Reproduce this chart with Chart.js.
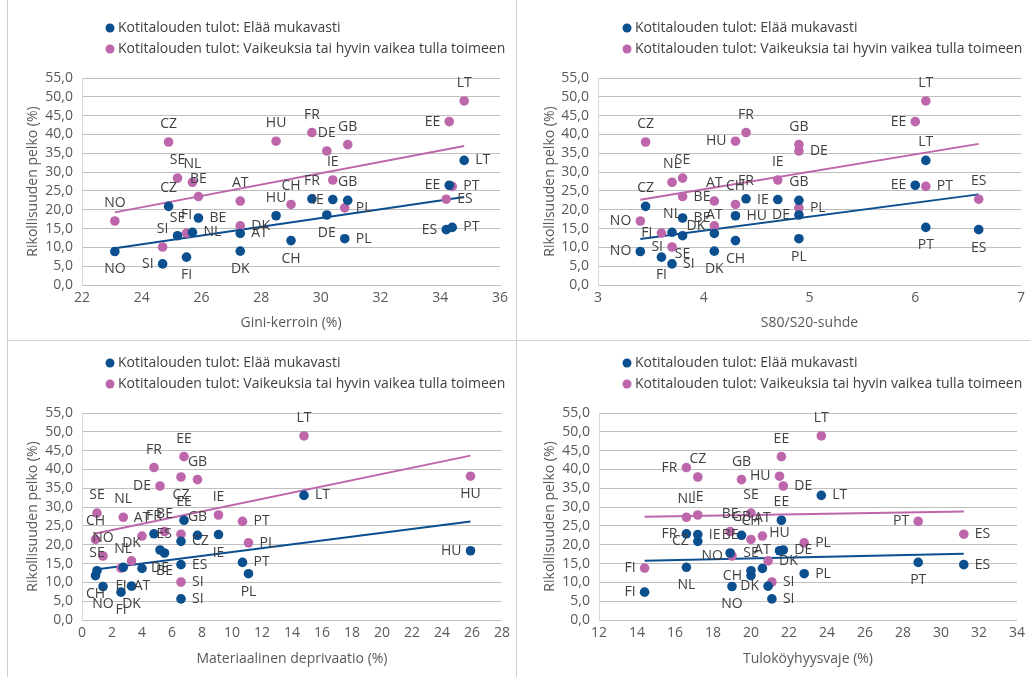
<!DOCTYPE html>
<html>
<head>
<meta charset="utf-8">
<script src="https://cdn.jsdelivr.net/npm/chart.js@4.4.1/dist/chart.umd.min.js"></script>
<style>
  body { margin:0; background:#fff; width:1030px; height:677px; overflow:hidden; position:relative; }
  .panel { position:absolute; }
  .rule { position:absolute; background:#cfcfcf; z-index:2; }
</style>
</head>
<body>
<div class="panel" style="left:0;top:0;width:515px;height:335px"><canvas id="c1"></canvas></div>
<div class="panel" style="left:517px;top:0;width:513px;height:335px"><canvas id="c2"></canvas></div>
<div class="panel" style="left:0;top:335px;width:515px;height:342px"><canvas id="c3"></canvas></div>
<div class="panel" style="left:517px;top:335px;width:513px;height:342px"><canvas id="c4"></canvas></div>
<div class="rule" style="left:7px;top:0;width:1px;height:677px"></div>
<div class="rule" style="left:516px;top:0;width:1px;height:677px"></div>
<div class="rule" style="left:7px;top:340px;width:1023px;height:1px"></div>
<script>
const countries   = ["AT","BE","CH","CZ","DE","DK","EE","ES","FI","FR","GB","HU","IE","LT","NL","NO","PL","PT","SE","SI"];
const comfortable = [13.7,17.8,11.8,20.9,18.6,9.0,26.5,14.7,7.4,22.9,22.5,18.4,22.7,33.1,14.0,8.9,12.3,15.3,13.1,5.6];
const difficult   = [22.3,23.5,21.4,38.0,35.6,15.7,43.4,22.8,13.8,40.5,37.3,38.2,27.9,48.9,27.3,17.0,20.5,26.2,28.4,10.1];
const gini        = [27.3,25.9,29.0,24.9,30.2,27.3,34.3,34.2,25.5,29.7,30.9,28.5,30.4,34.8,25.7,23.1,30.8,34.4,25.2,24.7];
const s80s20      = [4.1,3.8,4.3,3.45,4.9,4.1,6.0,6.6,3.6,4.4,4.9,4.3,4.7,6.1,3.7,3.4,4.9,6.1,3.8,3.7];
const deprivation = [4.0,5.5,0.9,6.6,5.2,3.3,6.8,6.6,2.6,4.8,7.7,25.9,9.1,14.8,2.75,1.4,11.1,10.7,1.0,6.6];
const povertyGap  = [20.6,18.9,20.0,17.2,21.7,20.9,21.6,31.2,14.4,16.6,19.5,21.5,17.2,23.7,16.6,19.0,22.8,28.8,20.0,21.1];

const seriesNames = ["Kotitalouden tulot: Elää mukavasti", "Kotitalouden tulot: Vaikeuksia tai hyvin vaikea tulla toimeen"];
const yTitle = "Rikollisuuden pelko (%)";
const colors = ["#0b4f8e", "#bd66ac"];
const textColor = "#404040";
const FONT = "'Open Sans', sans-serif";

// label side per country (t/b/l/r), same order as countries
const labelPos = {
  c1: ["r r b t b b l l b t t t l r r b r r t l", "t t t t t r l r t t t t t t t t r r t t"],
  c2: ["t r b t l b l b b t t r l t t l b b b r", "t r t t r l l t l t t l t t t l r r t l"],
  c3: ["b b b r b b t r b t t l b r t b b r t r", "t t t b l t t l b t t b t t t t r r t r"],
  c4: ["t t l l r l t r l l t t r r b b r b t r", "t t t t r r t r l l t l t t t l r l t r"],
};

const panels = [
  { id:"c1", xs:gini,        title:"Gini-kerroin (%)",              min:22, max:36, step:2, yw:82, pr:15, xh:50, tb:4 },
  { id:"c2", xs:s80s20,      title:"S80/S20-suhde",                 min:3,  max:7,  step:1, yw:81, pr:9,  xh:50, tb:4 },
  { id:"c3", xs:deprivation, title:"Materiaalinen deprivaatio (%)", min:0,  max:28, step:2, yw:82, pr:13, xh:57, tb:10 },
  { id:"c4", xs:povertyGap,  title:"Tuloköyhyysvaje (%)",           min:12, max:34, step:2, yw:82, pr:11, xh:57, tb:10 },
];

function trend(xs, ys){
  const n = xs.length;
  const mx = xs.reduce((a,b)=>a+b,0)/n, my = ys.reduce((a,b)=>a+b,0)/n;
  let sxy = 0, sxx = 0;
  for (let i=0;i<n;i++){ sxy += (xs[i]-mx)*(ys[i]-my); sxx += (xs[i]-mx)**2; }
  const b = sxy/sxx, a = my - b*mx;
  const lo = Math.min(...xs), hi = Math.max(...xs);
  return [{x:lo, y:a+b*lo}, {x:hi, y:a+b*hi}];
}

const pointLabels = {
  id: "pointLabels",
  afterDatasetsDraw(chart, args, opts){
    const ctx = chart.ctx;
    ctx.save();
    ctx.font = "14px " + FONT;
    ctx.fillStyle = textColor;
    [0,1].forEach(di => {
      const pos = opts.pos[di].split(" ");
      chart.getDatasetMeta(di).data.forEach((pt, i) => {
        let x = pt.x, y = pt.y;
        ctx.textBaseline = "middle";
        if (pos[i] === "t"){ ctx.textAlign = "center"; y -= 18; }
        else if (pos[i] === "b"){ ctx.textAlign = "center"; y += 18; }
        else if (pos[i] === "l"){ ctx.textAlign = "right"; x -= 9; }
        else { ctx.textAlign = "left"; x += 11; }
        ctx.fillText(countries[i], x, y);
      });
    });
    ctx.restore();
  }
};

const topLegend = {
  id: "topLegend",
  afterDraw(chart){
    const ctx = chart.ctx;
    ctx.save();
    ctx.font = "14px " + FONT;
    ctx.textBaseline = "middle";
    ctx.textAlign = "left";
    seriesNames.forEach((name, i) => {
      const y = 28 + i*21;
      ctx.fillStyle = colors[i];
      ctx.beginPath(); ctx.arc(110, y, 4.5, 0, Math.PI*2); ctx.fill();
      ctx.fillStyle = textColor;
      ctx.fillText(name, 118, y);
    });
    ctx.restore();
  }
};

panels.forEach(p => {
  const ptsA = p.xs.map((x,i)=>({x, y:comfortable[i]}));
  const ptsB = p.xs.map((x,i)=>({x, y:difficult[i]}));
  new Chart(document.getElementById(p.id), {
    type: "scatter",
    data: { datasets: [
      { label: seriesNames[0], data: ptsA, backgroundColor: colors[0], borderColor: colors[0], pointRadius: 4.8, pointBorderWidth: 0 },
      { label: seriesNames[1], data: ptsB, backgroundColor: colors[1], borderColor: colors[1], pointRadius: 4.8, pointBorderWidth: 0 },
      { type: "line", data: trend(p.xs, comfortable), borderColor: colors[0], borderWidth: 2, pointRadius: 0, fill: false },
      { type: "line", data: trend(p.xs, difficult), borderColor: colors[1], borderWidth: 2, pointRadius: 0, fill: false },
    ]},
    options: {
      responsive: true, maintainAspectRatio: false, animation: false,
      layout: { padding: { left: 0, right: p.pr, top: 78, bottom: 0 } },
      scales: {
        x: {
          type: "linear", min: p.min, max: p.max,
          afterFit: s => { s.height = p.xh; },
          ticks: { stepSize: p.step, autoSkip: false, maxRotation: 0, color: "#595959", font: { family: FONT, size: 14 }, padding: 5 },
          grid: { display: false, drawTicks: false },
          border: { display: true, color: "#bfbfbf" },
          title: { display: true, text: p.title, color: "#595959", font: { family: FONT, size: 14 }, padding: { top: 0, bottom: p.tb } }
        },
        y: {
          min: 0, max: 55,
          afterFit: s => { s.width = p.yw; },
          ticks: { stepSize: 5, autoSkip: false, color: "#595959", font: { family: FONT, size: 14 }, padding: 9,
            callback: v => v.toFixed(1).replace(".", ",") },
          grid: { color: "#bfbfbf", drawTicks: false },
          border: { display: true, color: "#d9d9d9" },
          title: { display: true, text: yTitle, color: "#595959", font: { family: FONT, size: 14 }, padding: { top: 25, bottom: 0 } }
        }
      },
      plugins: {
        legend: { display: false },
        tooltip: { enabled: false },
        pointLabels: { pos: labelPos[p.id] }
      }
    },
    plugins: [pointLabels, topLegend]
  });
});
</script>
</body>
</html>
